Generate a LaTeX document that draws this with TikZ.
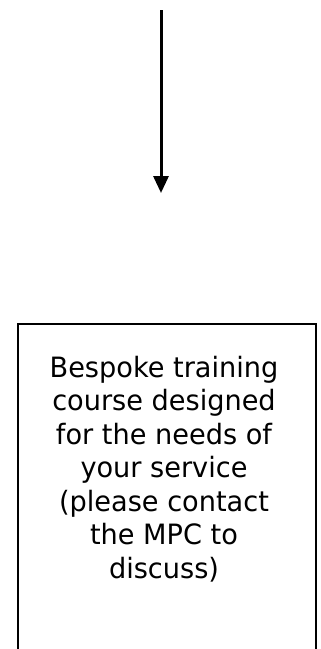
\documentclass[tikz,border=0pt]{standalone}
\usepackage{fontspec}
\setmainfont{DejaVu Sans}[FakeStretch=0.97]
\usetikzlibrary{arrows.meta}
\tikzset{
  flowarrow/.style={line width=3pt, -{Triangle[width=15pt,length=17pt]}},
  boxframe/.style={draw, line width=2.2pt, inner sep=0pt, anchor=north west},
  boxtext/.style={align=center, inner sep=0pt, font=\fontsize{28}{33.5}\selectfont}
}
\begin{document}
\begin{tikzpicture}[x=1pt,y=1pt]
\useasboundingbox (0,0) rectangle (321,-649);
\begin{scope}
\clip (0,0) rectangle (321,-649);
\coordinate (start) at (161,-10);
\coordinate (tip) at (161,-193);
\draw[flowarrow] (start) -- (tip);
\node[boxframe, minimum width=298pt, minimum height=360pt] (box) at (17,-322.5) {};
\node[boxtext, anchor=north] (txt) at (164,-356) {Bespoke training\\course designed\\for the needs of\\your service\\(please contact\\the MPC to\\discuss)};
\end{scope}
\end{tikzpicture}
\end{document}
